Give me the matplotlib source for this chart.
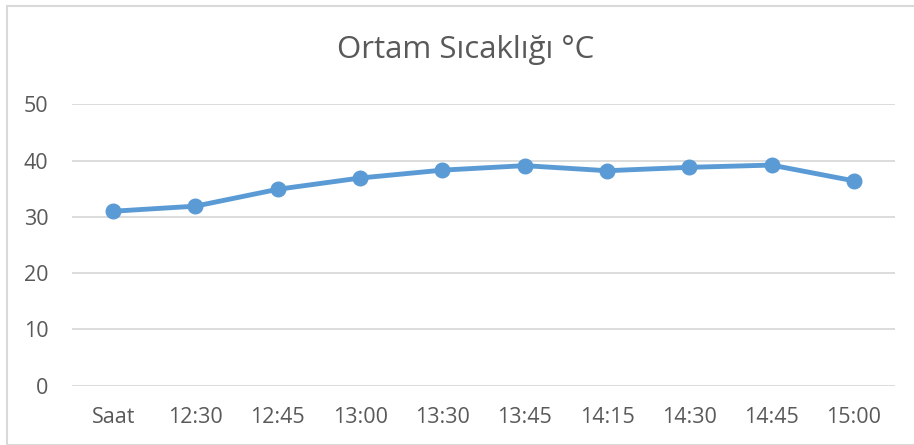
import matplotlib
matplotlib.use("Agg")
import matplotlib.pyplot as plt
from matplotlib.patches import Rectangle

# data
times = ["Saat", "12:30", "12:45", "13:00", "13:30", "13:45", "14:15", "14:30", "14:45", "15:00"]
temps = [31.0, 31.9, 34.9, 36.9, 38.3, 39.1, 38.2, 38.8, 39.2, 36.4]
y_ticks = [0, 10, 20, 30, 40, 50]

W, H = 914, 445
plt.rcParams["font.family"] = ["Open Sans", "DejaVu Sans"]

fig = plt.figure(figsize=(W / 100, H / 100), dpi=100)
ax = fig.add_axes([72 / W, 1 - 385.7 / H, (895 - 72) / W, (385.7 - 104.3) / H])

# chart frame
fig.patches.append(Rectangle((7 / W, 0), 1, 1 - 6 / H, transform=fig.transFigure,
                             fill=False, edgecolor="#D9D9D9", linewidth=1.5))

x = list(range(len(times)))
ax.plot(x, temps, color="#5B9BD5", linewidth=3.5, marker="o", markersize=10.5,
        solid_capstyle="round", zorder=3)

ax.set_xlim(-0.5, len(times) - 0.5)
ax.set_ylim(0, 50)
ax.set_yticks(y_ticks)
ax.set_xticks(x)
ax.set_xticklabels(times)
ax.grid(axis="y", color="#D9D9D9", linewidth=1.3)
ax.set_axisbelow(True)
for s in ax.spines.values():
    s.set_visible(False)
ax.tick_params(length=0, labelsize=15.5, labelcolor="#595959")
ax.tick_params(axis="y", pad=17)
ax.tick_params(axis="x", pad=15)

fig.text(465.5 / W, 1 - 58 / H, "Ortam Sıcaklığı °C", ha="center", va="baseline",
         fontsize=22.5, color="#595959")

fig.savefig("out.png", dpi=100)
